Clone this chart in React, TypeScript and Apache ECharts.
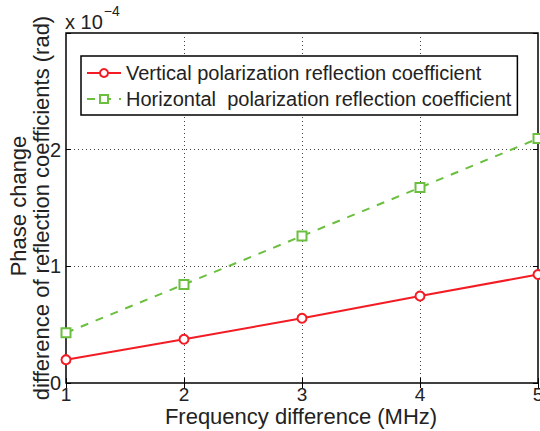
import React, { useEffect, useRef } from "react";
import * as echarts from "echarts";

const xValues = [1, 2, 3, 4, 5];
const verticalCoef = [0.2e-4, 0.375e-4, 0.555e-4, 0.745e-4, 0.93e-4];
const horizontalCoef = [0.43e-4, 0.845e-4, 1.26e-4, 1.675e-4, 2.095e-4];
const seriesNames = [
  "Vertical polarization reflection coefficient",
  "Horizontal  polarization reflection coefficient",
];
const xLabel = "Frequency difference (MHz)";
const yLabelLines = ["Phase change", "difference of reflection coefficients (rad)"];

const FONT = "Liberation Sans, Arial, Helvetica, sans-serif";
const RED = "#f41c24";
const GREEN = "#6abf3e";

export default function App() {
  const ref = useRef<HTMLDivElement>(null);
  useEffect(() => {
    document.body.style.margin = "0";
    if (!ref.current) return;
    const chart = echarts.init(ref.current, null, { renderer: "svg" });
    const gridLeft = 66, gridRight = 2, gridTop = 33, gridBottom = 48;
    const splitLine = { show: true, lineStyle: { color: "#444", type: [1, 3], width: 1 } };
    const tick = { show: true, inside: true, length: 5, lineStyle: { color: "#000", width: 1 } };
    chart.setOption({
      animation: false,
      backgroundColor: "#fff",
      grid: {
        left: gridLeft, right: gridRight, top: gridTop, bottom: gridBottom,
        containLabel: false,
        outerBoundsMode: "none",
        show: true, borderColor: "#000", borderWidth: 1.5, backgroundColor: "transparent",
      },
      xAxis: [
        {
          type: "value", min: 1, max: 5, interval: 1,
          axisLine: { show: false },
          axisTick: tick,
          splitLine,
          axisLabel: { color: "#222", fontFamily: FONT, fontSize: 19, lineHeight: 16, margin: 3 },
        },
        {
          type: "value", min: 1, max: 5, interval: 1, position: "top",
          axisLine: { show: false }, axisTick: tick, axisLabel: { show: false }, splitLine: { show: false },
        },
      ],
      yAxis: [
        {
          type: "value", min: 0, max: 3e-4, interval: 1e-4,
          axisLine: { show: false },
          axisTick: tick,
          splitLine,
          axisLabel: {
            color: "#222", fontFamily: FONT, fontSize: 20, margin: 5,
            formatter: (v: number) => {
              const n = Math.round(v * 1e4);
              return n === 3 ? "" : String(n);
            },
          },
        },
        {
          type: "value", min: 0, max: 3e-4, interval: 1e-4, position: "right",
          axisLine: { show: false }, axisTick: tick, axisLabel: { show: false }, splitLine: { show: false },
        },
      ],
      legend: {
        orient: "vertical",
        left: 81, top: 56,
        padding: [7, 6, 6, 5],
        itemGap: 6,
        itemWidth: 34, itemHeight: 10,
        backgroundColor: "#fff",
        borderColor: "#000", borderWidth: 1.5, borderRadius: 0,
        textStyle: { color: "#222", fontFamily: FONT, fontSize: 20 },
        data: seriesNames,
      },
      series: [
        {
          name: seriesNames[0], type: "line",
          data: xValues.map((x, i) => [x, verticalCoef[i]]),
          symbol: "circle", symbolSize: 9,
          lineStyle: { color: RED, width: 2 },
          itemStyle: { color: "#fff", borderColor: RED, borderWidth: 2 },
          clip: false, z: 3,
        },
        {
          name: seriesNames[1], type: "line",
          data: xValues.map((x, i) => [x, horizontalCoef[i]]),
          symbol: "rect", symbolSize: 9,
          lineStyle: { color: GREEN, width: 2, type: [8, 8] },
          itemStyle: { color: "#fff", borderColor: GREEN, borderWidth: 2 },
          clip: false, z: 3,
        },
      ],
      graphic: [
        {
          type: "text", left: 65, top: 4,
          style: {
            text: "{a|x 10}{b|−4}",
            rich: {
              a: { fontFamily: FONT, fontSize: 20, fill: "#222", padding: [8, 0, 0, 0] },
              b: { fontFamily: FONT, fontSize: 14, fill: "#222", verticalAlign: "top", padding: [0, 0, 10, 1] },
            },
          },
        },
        {
          type: "text", x: 301, y: 416,
          style: { text: xLabel, fontFamily: FONT, fontSize: 22, lineHeight: 18, fill: "#222", align: "center", verticalAlign: "middle" },
        },
        {
          type: "text", x: 18, y: 206, rotation: Math.PI / 2,
          style: { text: yLabelLines[0], fontFamily: FONT, fontSize: 22, fill: "#222", align: "center", verticalAlign: "middle" },
        },
        {
          type: "text", x: 41, y: 208, rotation: Math.PI / 2,
          style: { text: yLabelLines[1], fontFamily: FONT, fontSize: 22, fill: "#222", align: "center", verticalAlign: "middle" },
        },
      ],
    });
    return () => chart.dispose();
  }, []);
  return <div ref={ref} style={{ width: 540, height: 431 }} />;
}
